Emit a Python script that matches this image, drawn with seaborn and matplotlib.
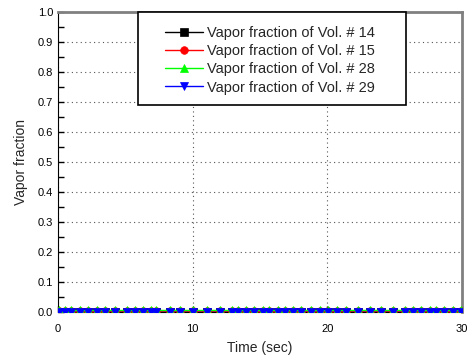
import numpy as np
import pandas as pd
import matplotlib
matplotlib.use('Agg')
import matplotlib.pyplot as plt
import seaborn as sns
from matplotlib.ticker import MultipleLocator, FormatStrFormatter
from matplotlib.patches import Rectangle

# sample times (sec)
times = [0.1, 0.52, 1.0, 1.63, 2.25, 2.92, 3.49, 4.23, 5.1, 5.72, 6.29, 6.88, 7.32,
         8.31, 9.06, 10.05, 11.04, 12.03, 12.9, 13.39, 14.0, 14.6, 15.2, 15.7, 16.36,
         16.9, 17.47, 18.09, 18.8, 19.45, 20.07, 20.7, 21.43, 22.3, 23.16, 24.03,
         24.9, 25.76, 26.38, 27.0, 27.6, 28.1, 28.7, 29.35, 29.97]
vol14 = [0.0] * len(times)
vol15 = [0.002] * len(times)
vol28 = [0.008] * len(times)
vol29 = [0.0] * len(times)
labels = ['Vapor fraction of Vol. # 14', 'Vapor fraction of Vol. # 15',
          'Vapor fraction of Vol. # 28', 'Vapor fraction of Vol. # 29']

sns.set_style('ticks')
plt.rcParams['font.family'] = ['Liberation Sans', 'DejaVu Sans']

df = pd.DataFrame({
    'Time': times * 4,
    'Vapor': vol14 + vol15 + vol28 + vol29,
    'Series': np.repeat(labels, len(times)),
})

colors = ['black', 'red', '#00ff00', 'blue']
markers = ['s', 'o', '^', 'v']

fig = plt.figure(figsize=(4.67, 3.61), dpi=100)
ax = fig.add_axes([0.124, 0.136, 0.865, 0.831])

for lab, c, m in zip(labels, colors, markers):
    sub = df[df['Series'] == lab]
    sns.lineplot(x='Time', y='Vapor', data=sub, ax=ax, color=c, marker=m,
                 markersize=5.5, markeredgecolor=c, markeredgewidth=0.5,
                 linewidth=1, label=lab, zorder=3)

ax.set_xlim(0, 30)
ax.set_ylim(0, 1.0)
ax.xaxis.set_major_locator(MultipleLocator(10))
ax.yaxis.set_major_locator(MultipleLocator(0.1))
ax.yaxis.set_minor_locator(MultipleLocator(0.05))
ax.yaxis.set_major_formatter(FormatStrFormatter('%.1f'))
ax.tick_params(which='both', direction='in', labelsize=8, colors='black')
ax.tick_params(which='major', length=4, width=1)
ax.tick_params(which='minor', length=4, width=1)
ax.tick_params(axis='x', pad=9)
ax.grid(True, which='major', linestyle=(0, (1, 3)), color='#555555', linewidth=0.8)

ax.spines['left'].set_color('black')
ax.spines['bottom'].set_color('black')
ax.spines['top'].set_color('#808080')
ax.spines['right'].set_color('#808080')
ax.spines['top'].set_linewidth(2)
ax.spines['right'].set_linewidth(2)

ax.set_xlabel('Time (sec)', fontsize=10, labelpad=5)
ax.set_ylabel('Vapor fraction', fontsize=10, labelpad=7)

# legend frame drawn as a box, entries placed inside it
ax.add_patch(Rectangle((0.198, 0.69), 0.663, 0.31, transform=ax.transAxes,
                       facecolor='white', edgecolor='black', linewidth=1.2,
                       clip_on=False, zorder=4))
leg = ax.legend(loc='upper left', bbox_to_anchor=(0.265, 0.952), fontsize=10.5,
                frameon=False, handlelength=2.6, handletextpad=0.3,
                borderpad=0, borderaxespad=0, labelspacing=0.28, markerscale=1.0)
leg.set_zorder(5)

fig.savefig('out.png', dpi=100)
